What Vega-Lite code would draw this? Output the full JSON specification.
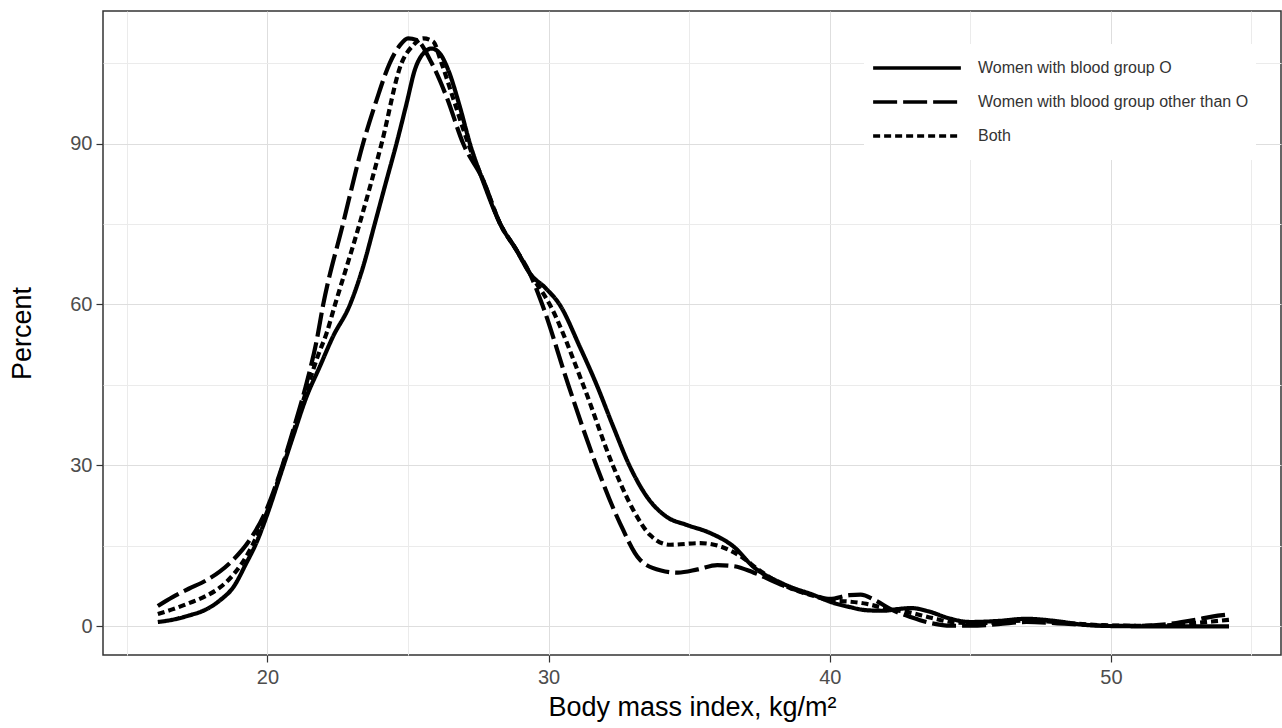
{
  "$schema": "https://vega.github.io/schema/vega-lite/v6.json",
  "width": 1178,
  "height": 644,
  "autosize": {"type": "none"},
  "padding": {"left": 103, "top": 11, "right": 1, "bottom": 73},
  "background": "#ffffff",
  "config": {
    "font": "Liberation Sans",
    "view": {"stroke": "#333333", "strokeWidth": 1.5},
    "axis": {"labelFont": "Liberation Sans", "titleFont": "Liberation Sans"}
  },
  "datasets": {
    "curves": [
      {"bmi": 16.1, "pct": 0.8, "group": "Women with blood group O"},
      {"bmi": 16.6, "pct": 1.2, "group": "Women with blood group O"},
      {"bmi": 17.2, "pct": 2.0, "group": "Women with blood group O"},
      {"bmi": 17.8, "pct": 3.1, "group": "Women with blood group O"},
      {"bmi": 18.3, "pct": 4.8, "group": "Women with blood group O"},
      {"bmi": 18.8, "pct": 7.4, "group": "Women with blood group O"},
      {"bmi": 19.25, "pct": 11.8, "group": "Women with blood group O"},
      {"bmi": 19.6, "pct": 15.5, "group": "Women with blood group O"},
      {"bmi": 19.96, "pct": 20.4, "group": "Women with blood group O"},
      {"bmi": 20.44, "pct": 27.9, "group": "Women with blood group O"},
      {"bmi": 20.91, "pct": 35.4, "group": "Women with blood group O"},
      {"bmi": 21.39, "pct": 42.8, "group": "Women with blood group O"},
      {"bmi": 21.86, "pct": 48.4, "group": "Women with blood group O"},
      {"bmi": 22.33, "pct": 54.0, "group": "Women with blood group O"},
      {"bmi": 22.93, "pct": 59.9, "group": "Women with blood group O"},
      {"bmi": 23.4, "pct": 67.0, "group": "Women with blood group O"},
      {"bmi": 23.82, "pct": 75.1, "group": "Women with blood group O"},
      {"bmi": 24.2, "pct": 82.5, "group": "Women with blood group O"},
      {"bmi": 24.59, "pct": 90.0, "group": "Women with blood group O"},
      {"bmi": 24.95, "pct": 97.5, "group": "Women with blood group O"},
      {"bmi": 25.24, "pct": 103.7, "group": "Women with blood group O"},
      {"bmi": 25.6, "pct": 107.1, "group": "Women with blood group O"},
      {"bmi": 25.84, "pct": 107.7, "group": "Women with blood group O"},
      {"bmi": 26.13, "pct": 106.8, "group": "Women with blood group O"},
      {"bmi": 26.43, "pct": 103.7, "group": "Women with blood group O"},
      {"bmi": 26.84, "pct": 96.9, "group": "Women with blood group O"},
      {"bmi": 27.2, "pct": 90.0, "group": "Women with blood group O"},
      {"bmi": 27.7, "pct": 82.5, "group": "Women with blood group O"},
      {"bmi": 28.27, "pct": 75.1, "group": "Women with blood group O"},
      {"bmi": 28.86, "pct": 70.1, "group": "Women with blood group O"},
      {"bmi": 29.33, "pct": 65.8, "group": "Women with blood group O"},
      {"bmi": 29.9, "pct": 63.0, "group": "Women with blood group O"},
      {"bmi": 30.4, "pct": 59.9, "group": "Women with blood group O"},
      {"bmi": 31.11, "pct": 52.1, "group": "Women with blood group O"},
      {"bmi": 31.71, "pct": 45.0, "group": "Women with blood group O"},
      {"bmi": 32.3, "pct": 37.2, "group": "Women with blood group O"},
      {"bmi": 32.89, "pct": 29.8, "group": "Women with blood group O"},
      {"bmi": 33.49, "pct": 24.2, "group": "Women with blood group O"},
      {"bmi": 34.2, "pct": 20.4, "group": "Women with blood group O"},
      {"bmi": 34.91, "pct": 18.9, "group": "Women with blood group O"},
      {"bmi": 35.74, "pct": 17.4, "group": "Women with blood group O"},
      {"bmi": 36.57, "pct": 14.9, "group": "Women with blood group O"},
      {"bmi": 37.28, "pct": 11.1, "group": "Women with blood group O"},
      {"bmi": 38.35, "pct": 7.9, "group": "Women with blood group O"},
      {"bmi": 39.54, "pct": 5.6, "group": "Women with blood group O"},
      {"bmi": 40.0, "pct": 4.6, "group": "Women with blood group O"},
      {"bmi": 40.7, "pct": 3.6, "group": "Women with blood group O"},
      {"bmi": 41.3, "pct": 3.0, "group": "Women with blood group O"},
      {"bmi": 41.9, "pct": 2.9, "group": "Women with blood group O"},
      {"bmi": 42.4, "pct": 3.2, "group": "Women with blood group O"},
      {"bmi": 42.9, "pct": 3.4, "group": "Women with blood group O"},
      {"bmi": 43.5, "pct": 2.8, "group": "Women with blood group O"},
      {"bmi": 44.3, "pct": 1.4, "group": "Women with blood group O"},
      {"bmi": 45.0, "pct": 0.8, "group": "Women with blood group O"},
      {"bmi": 46.0, "pct": 1.0, "group": "Women with blood group O"},
      {"bmi": 47.0, "pct": 1.4, "group": "Women with blood group O"},
      {"bmi": 48.0, "pct": 1.0, "group": "Women with blood group O"},
      {"bmi": 49.0, "pct": 0.3, "group": "Women with blood group O"},
      {"bmi": 50.0, "pct": 0.05, "group": "Women with blood group O"},
      {"bmi": 51.0, "pct": 0.0, "group": "Women with blood group O"},
      {"bmi": 52.0, "pct": 0.0, "group": "Women with blood group O"},
      {"bmi": 53.0, "pct": 0.0, "group": "Women with blood group O"},
      {"bmi": 54.2, "pct": 0.0, "group": "Women with blood group O"},

      {"bmi": 16.1, "pct": 3.8, "group": "Women with blood group other than O"},
      {"bmi": 16.64, "pct": 5.5, "group": "Women with blood group other than O"},
      {"bmi": 17.2, "pct": 7.0, "group": "Women with blood group other than O"},
      {"bmi": 17.83, "pct": 8.6, "group": "Women with blood group other than O"},
      {"bmi": 18.3, "pct": 10.2, "group": "Women with blood group other than O"},
      {"bmi": 18.78, "pct": 12.4, "group": "Women with blood group other than O"},
      {"bmi": 19.37, "pct": 16.1, "group": "Women with blood group other than O"},
      {"bmi": 19.96, "pct": 21.7, "group": "Women with blood group other than O"},
      {"bmi": 20.44, "pct": 28.5, "group": "Women with blood group other than O"},
      {"bmi": 20.91, "pct": 36.5, "group": "Women with blood group other than O"},
      {"bmi": 21.39, "pct": 45.3, "group": "Women with blood group other than O"},
      {"bmi": 21.74, "pct": 53.0, "group": "Women with blood group other than O"},
      {"bmi": 21.98, "pct": 59.9, "group": "Women with blood group other than O"},
      {"bmi": 22.69, "pct": 75.1, "group": "Women with blood group other than O"},
      {"bmi": 23.4, "pct": 90.0, "group": "Women with blood group other than O"},
      {"bmi": 23.88, "pct": 98.1, "group": "Women with blood group other than O"},
      {"bmi": 24.35, "pct": 105.0, "group": "Women with blood group other than O"},
      {"bmi": 24.71, "pct": 108.3, "group": "Women with blood group other than O"},
      {"bmi": 25.0, "pct": 109.6, "group": "Women with blood group other than O"},
      {"bmi": 25.3, "pct": 109.3, "group": "Women with blood group other than O"},
      {"bmi": 25.84, "pct": 105.0, "group": "Women with blood group other than O"},
      {"bmi": 26.37, "pct": 98.7, "group": "Women with blood group other than O"},
      {"bmi": 26.96, "pct": 90.0, "group": "Women with blood group other than O"},
      {"bmi": 27.67, "pct": 83.2, "group": "Women with blood group other than O"},
      {"bmi": 28.27, "pct": 75.1, "group": "Women with blood group other than O"},
      {"bmi": 28.86, "pct": 70.1, "group": "Women with blood group other than O"},
      {"bmi": 29.33, "pct": 65.8, "group": "Women with blood group other than O"},
      {"bmi": 29.78, "pct": 59.9, "group": "Women with blood group other than O"},
      {"bmi": 30.7, "pct": 45.0, "group": "Women with blood group other than O"},
      {"bmi": 31.71, "pct": 29.8, "group": "Women with blood group other than O"},
      {"bmi": 32.54, "pct": 19.2, "group": "Women with blood group other than O"},
      {"bmi": 33.25, "pct": 12.4, "group": "Women with blood group other than O"},
      {"bmi": 34.0, "pct": 10.4, "group": "Women with blood group other than O"},
      {"bmi": 34.6, "pct": 10.0, "group": "Women with blood group other than O"},
      {"bmi": 35.3, "pct": 10.6, "group": "Women with blood group other than O"},
      {"bmi": 36.0, "pct": 11.4, "group": "Women with blood group other than O"},
      {"bmi": 36.6, "pct": 11.2, "group": "Women with blood group other than O"},
      {"bmi": 37.3, "pct": 10.0, "group": "Women with blood group other than O"},
      {"bmi": 38.35, "pct": 7.6, "group": "Women with blood group other than O"},
      {"bmi": 39.54, "pct": 5.6, "group": "Women with blood group other than O"},
      {"bmi": 40.0, "pct": 5.1, "group": "Women with blood group other than O"},
      {"bmi": 40.7, "pct": 5.8, "group": "Women with blood group other than O"},
      {"bmi": 41.1, "pct": 5.9, "group": "Women with blood group other than O"},
      {"bmi": 41.6, "pct": 4.9, "group": "Women with blood group other than O"},
      {"bmi": 42.2, "pct": 3.1, "group": "Women with blood group other than O"},
      {"bmi": 42.9, "pct": 1.7, "group": "Women with blood group other than O"},
      {"bmi": 43.6, "pct": 0.6, "group": "Women with blood group other than O"},
      {"bmi": 44.3, "pct": 0.1, "group": "Women with blood group other than O"},
      {"bmi": 45.0, "pct": 0.1, "group": "Women with blood group other than O"},
      {"bmi": 46.0, "pct": 0.4, "group": "Women with blood group other than O"},
      {"bmi": 47.0, "pct": 0.8, "group": "Women with blood group other than O"},
      {"bmi": 48.0, "pct": 0.6, "group": "Women with blood group other than O"},
      {"bmi": 49.0, "pct": 0.3, "group": "Women with blood group other than O"},
      {"bmi": 50.0, "pct": 0.1, "group": "Women with blood group other than O"},
      {"bmi": 51.0, "pct": 0.1, "group": "Women with blood group other than O"},
      {"bmi": 52.0, "pct": 0.4, "group": "Women with blood group other than O"},
      {"bmi": 53.0, "pct": 1.2, "group": "Women with blood group other than O"},
      {"bmi": 53.6, "pct": 1.8, "group": "Women with blood group other than O"},
      {"bmi": 54.2, "pct": 2.2, "group": "Women with blood group other than O"},

      {"bmi": 16.1, "pct": 2.3, "group": "Both"},
      {"bmi": 16.64, "pct": 3.2, "group": "Both"},
      {"bmi": 17.2, "pct": 4.3, "group": "Both"},
      {"bmi": 17.83, "pct": 5.7, "group": "Both"},
      {"bmi": 18.3, "pct": 7.2, "group": "Both"},
      {"bmi": 18.78, "pct": 9.6, "group": "Both"},
      {"bmi": 19.3, "pct": 13.5, "group": "Both"},
      {"bmi": 19.96, "pct": 21.0, "group": "Both"},
      {"bmi": 20.44, "pct": 28.2, "group": "Both"},
      {"bmi": 20.91, "pct": 36.0, "group": "Both"},
      {"bmi": 21.39, "pct": 44.0, "group": "Both"},
      {"bmi": 21.8, "pct": 50.5, "group": "Both"},
      {"bmi": 22.1, "pct": 54.6, "group": "Both"},
      {"bmi": 22.4, "pct": 59.9, "group": "Both"},
      {"bmi": 23.28, "pct": 75.1, "group": "Both"},
      {"bmi": 24.06, "pct": 90.0, "group": "Both"},
      {"bmi": 24.77, "pct": 105.0, "group": "Both"},
      {"bmi": 25.18, "pct": 108.3, "group": "Both"},
      {"bmi": 25.54, "pct": 109.6, "group": "Both"},
      {"bmi": 25.89, "pct": 109.0, "group": "Both"},
      {"bmi": 26.19, "pct": 105.0, "group": "Both"},
      {"bmi": 26.6, "pct": 98.5, "group": "Both"},
      {"bmi": 27.14, "pct": 90.0, "group": "Both"},
      {"bmi": 27.7, "pct": 82.8, "group": "Both"},
      {"bmi": 28.27, "pct": 75.1, "group": "Both"},
      {"bmi": 28.86, "pct": 70.1, "group": "Both"},
      {"bmi": 29.33, "pct": 65.8, "group": "Both"},
      {"bmi": 30.05, "pct": 59.9, "group": "Both"},
      {"bmi": 31.23, "pct": 45.0, "group": "Both"},
      {"bmi": 32.3, "pct": 29.8, "group": "Both"},
      {"bmi": 33.01, "pct": 21.7, "group": "Both"},
      {"bmi": 33.61, "pct": 17.0, "group": "Both"},
      {"bmi": 34.32, "pct": 15.2, "group": "Both"},
      {"bmi": 35.39, "pct": 15.5, "group": "Both"},
      {"bmi": 36.1, "pct": 14.9, "group": "Both"},
      {"bmi": 36.93, "pct": 12.7, "group": "Both"},
      {"bmi": 37.4, "pct": 10.8, "group": "Both"},
      {"bmi": 38.35, "pct": 7.7, "group": "Both"},
      {"bmi": 39.54, "pct": 5.5, "group": "Both"},
      {"bmi": 40.0, "pct": 4.8, "group": "Both"},
      {"bmi": 40.7, "pct": 4.6, "group": "Both"},
      {"bmi": 41.3, "pct": 4.2, "group": "Both"},
      {"bmi": 42.0, "pct": 3.3, "group": "Both"},
      {"bmi": 42.9, "pct": 2.5, "group": "Both"},
      {"bmi": 43.6, "pct": 1.6, "group": "Both"},
      {"bmi": 44.5, "pct": 0.7, "group": "Both"},
      {"bmi": 45.5, "pct": 0.6, "group": "Both"},
      {"bmi": 46.3, "pct": 0.9, "group": "Both"},
      {"bmi": 47.0, "pct": 1.1, "group": "Both"},
      {"bmi": 48.0, "pct": 0.8, "group": "Both"},
      {"bmi": 49.0, "pct": 0.4, "group": "Both"},
      {"bmi": 50.0, "pct": 0.15, "group": "Both"},
      {"bmi": 51.0, "pct": 0.1, "group": "Both"},
      {"bmi": 52.0, "pct": 0.2, "group": "Both"},
      {"bmi": 53.0, "pct": 0.6, "group": "Both"},
      {"bmi": 53.6, "pct": 0.9, "group": "Both"},
      {"bmi": 54.2, "pct": 1.2, "group": "Both"}
    ]
  },
  "data": {"name": "curves"},
  "mark": {"type": "line", "interpolate": "monotone", "color": "#000000", "strokeWidth": 4.2, "strokeCap": "butt", "clip": true},
  "encoding": {
    "x": {
      "field": "bmi", "type": "quantitative",
      "scale": {"domain": [14.15, 56.05], "nice": false, "zero": false},
      "axis": {
        "title": "Body mass index, kg/m²",
        "values": [15, 20, 25, 30, 35, 40, 45, 50, 55],
        "labelExpr": "datum.value % 10 === 0 ? datum.label : ''",
        "domain": false,
        "grid": true,
        "gridColor": {"condition": {"test": "datum.value % 10 !== 0", "value": "#ebebeb"}, "value": "#dedede"},
        "gridWidth": 1,
        "tickColor": "#333333",
        "tickOpacity": {"condition": {"test": "datum.value % 10 !== 0", "value": 0}, "value": 1},
        "tickSize": 7,
        "tickWidth": 1.2,
        "labelFontSize": 20,
        "labelColor": "#4d4d4d",
        "labelPadding": 5,
        "titleFontSize": 27,
        "titleFontWeight": "normal",
        "titleColor": "#000000",
        "titlePadding": 7
      }
    },
    "y": {
      "field": "pct", "type": "quantitative",
      "scale": {"domain": [-5.35, 114.7], "nice": false, "zero": false},
      "axis": {
        "title": "Percent",
        "values": [0, 15, 30, 45, 60, 75, 90, 105],
        "labelExpr": "datum.value % 30 === 0 ? datum.label : ''",
        "domain": false,
        "grid": true,
        "gridColor": {"condition": {"test": "datum.value % 30 !== 0", "value": "#ebebeb"}, "value": "#dedede"},
        "gridWidth": 1,
        "tickColor": "#333333",
        "tickOpacity": {"condition": {"test": "datum.value % 30 !== 0", "value": 0}, "value": 1},
        "tickSize": 7,
        "tickWidth": 1.2,
        "labelFontSize": 20,
        "labelColor": "#4d4d4d",
        "labelPadding": 4,
        "titleFontSize": 27,
        "titleFontWeight": "normal",
        "titleColor": "#000000",
        "titlePadding": 33
      }
    },
    "strokeDash": {
      "field": "group", "type": "nominal",
      "scale": {
        "domain": ["Women with blood group O", "Women with blood group other than O", "Both"],
        "range": [[1, 0], [24, 6], [7, 4]]
      },
      "legend": {
        "title": null,
        "orient": "none",
        "legendX": 761,
        "legendY": 33,
        "fillColor": "#ffffff",
        "padding": 7,
        "symbolType": "stroke",
        "symbolSize": 7700,
        "symbolStrokeWidth": 3.5,
        "symbolStrokeColor": "#000000",
        "clipHeight": 34,
        "rowPadding": 0,
        "labelOffset": 15,
        "labelFontSize": 16,
        "labelFont": "Liberation Sans",
        "labelColor": "#333333",
        "labelLimit": 400
      }
    }
  }
}
